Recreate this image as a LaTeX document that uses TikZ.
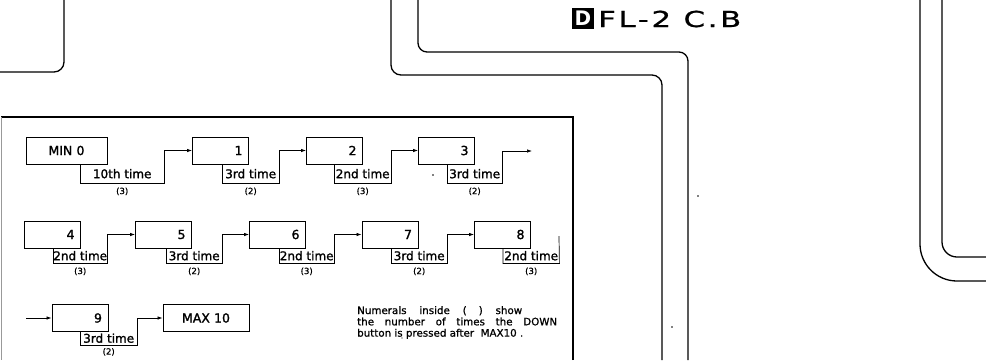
\documentclass[tikz,border=0pt]{standalone}
\usepackage{fontspec}
\setmainfont{DejaVu Sans}
\usetikzlibrary{arrows.meta,positioning}
\tikzset{valbox/.style={draw,line width=0.9pt,minimum height=27pt,inner xsep=6pt,text width=44pt,align=right,font=\fontsize{12.5}{14}\selectfont\addfontfeature{FakeBold=1.5}},
tlab/.style={anchor=north west,inner sep=0pt,font=\fontsize{12}{14}\selectfont\addfontfeature{FakeBold=1.5}},
cnt/.style={inner sep=0pt,font=\fontsize{8.5}{9}\selectfont\addfontfeature{FakeBold=1}},
conn/.style={line width=0.7pt},
arr/.style={conn,-{Latex[length=5pt,width=3.5pt]}},
rim/.style={line width=1.3pt}}

\begin{document}
\begin{tikzpicture}[x=1pt,y=-1pt]
\useasboundingbox (0,0) rectangle (986,360);
% board outlines
\draw[rim,rounded corners=10pt] (64,0) -- (64,72) -- (0,72);
\draw[rim,rounded corners=9pt] (418,0) -- (418,52) -- (688,52) -- (688,360);
\draw[rim,rounded corners=10pt] (391,0) -- (391,75) -- (662,75) -- (662,360);
\draw[rim,rounded corners=37pt] (920,0) -- (920,281) -- (986,281);
\draw[rim,rounded corners=15pt] (942,0) -- (942,257) -- (986,257);
\fill (433,175) circle (0.8pt);
\fill (698,196) circle (0.8pt);
\fill (672,327) circle (0.8pt);
\fill (402,338) circle (0.6pt);
% title
\node[fill=black,text=white,minimum width=22pt,minimum height=21pt,inner sep=0pt,font=\fontsize{20}{22}\selectfont\bfseries] (dmark) at (583,18.5) {D};
\node[anchor=base west,inner sep=0pt,font=\fontsize{22}{24}\selectfont\addfontfeature{FakeStretch=1.4,LetterSpace=12,FakeBold=0.8}] (title) at (598,27) {FL-2 C.B};
% frame
\draw[line width=1.4pt] (573,360) -- (573,117) -- (1,117);
\draw[black!40,line width=0.6pt] (1,117) -- (1,360);
% row 1
\node[valbox,text width=69pt,align=center] (b0) at (66.5,150.5) {MIN 0};
\node[valbox] (b1) at (220.5,150.5) {1};
\node[valbox] (b2) at (334.5,150.5) {2};
\node[valbox] (b3) at (446.5,150.5) {3};
\node[tlab,minimum width=84pt,minimum height=19pt] (t0) at (80,164) {10th time};
\node[tlab,minimum width=57pt,minimum height=19pt] (t1) at (222,164) {3rd time};
\node[tlab,minimum width=57pt,minimum height=19pt] (t2) at (334,164) {2nd time};
\node[tlab,minimum width=55pt,minimum height=19pt] (t3) at (447,164) {3rd time};
\coordinate (e3) at (532,151);
% row 2
\node[valbox] (b4) at (52.5,234.5) {4};
\node[valbox] (b5) at (163.5,234.5) {5};
\node[valbox] (b6) at (277.5,234.5) {6};
\node[valbox] (b7) at (390,234.5) {7};
\node[valbox] (b8) at (502.5,234.5) {8};
\node[tlab,minimum width=54pt,minimum height=15pt] (t4) at (53,248) {2nd time};
\node[tlab,minimum width=56pt,minimum height=15pt] (t5) at (166,248) {3rd time};
\node[tlab,minimum width=55pt,minimum height=15pt] (t6) at (279,248) {2nd time};
\node[tlab,minimum width=56pt,minimum height=15pt] (t7) at (391,248) {3rd time};
\node[tlab,minimum width=56pt,minimum height=15pt] (t8) at (503,248) {2nd time};
\coordinate (e8) at (559,236);
% row 3
\coordinate (s9) at (26,318);
\node[valbox] (b9) at (80,318) {9};
\node[valbox,text width=74pt,align=center] (b10) at (206,318) {MAX 10};
\node[tlab,minimum width=57pt,minimum height=13pt] (t9) at (80,331.5) {3rd time};
% press counts
\node[cnt,below=4pt of t0] (c0) {(3)};
\node[cnt,below=4pt of t1] (c1) {(2)};
\node[cnt,below=4pt of t2] (c2) {(3)};
\node[cnt,below=4pt of t3] (c3) {(2)};
\node[cnt,below=4pt of t4] (c4) {(3)};
\node[cnt,below=4pt of t5] (c5) {(2)};
\node[cnt,below=4pt of t6] (c6) {(3)};
\node[cnt,below=4pt of t7] (c7) {(2)};
\node[cnt,below=4pt of t8] (c8) {(3)};
\node[cnt,below=3pt of t9] (c9) {(2)};
% steps
\draw[arr] (t0.north west) -- (t0.south west) -- (t0.south east) |- (b1.west);
\draw[arr] (t1.north west) -- (t1.south west) -- (t1.south east) |- (b2.west);
\draw[arr] (t2.north west) -- (t2.south west) -- (t2.south east) |- (b3.west);
\draw[arr] (t3.north west) -- (t3.south west) -- (t3.south east) |- (e3);
\draw[arr] (t4.north west) -- (t4.south west) -- (t4.south east) |- (b5.west);
\draw[arr] (t5.north west) -- (t5.south west) -- (t5.south east) |- (b6.west);
\draw[arr] (t6.north west) -- (t6.south west) -- (t6.south east) |- (b7.west);
\draw[arr] (t7.north west) -- (t7.south west) -- (t7.south east) |- (b8.west);
\draw[conn] (t8.north west) -- (t8.south west) -- (t8.south east) -- (e8);
\draw[arr] (s9) -- (b9.west);
\draw[arr] (t9.north west) -- (t9.south west) -- (t9.south east) |- (b10.west);
% note
\node[anchor=north west,inner sep=0pt,align=left,font=\fontsize{10.3}{11.3}\selectfont\addfontfeature{FakeBold=1}] (note) at (357,306) {\makebox[165pt][s]{Numerals inside (\hspace{12pt}) show}\\\makebox[200pt][s]{the number of times the DOWN}\\button is pressed after\ \ MAX10 .};
\end{tikzpicture}
\end{document}
